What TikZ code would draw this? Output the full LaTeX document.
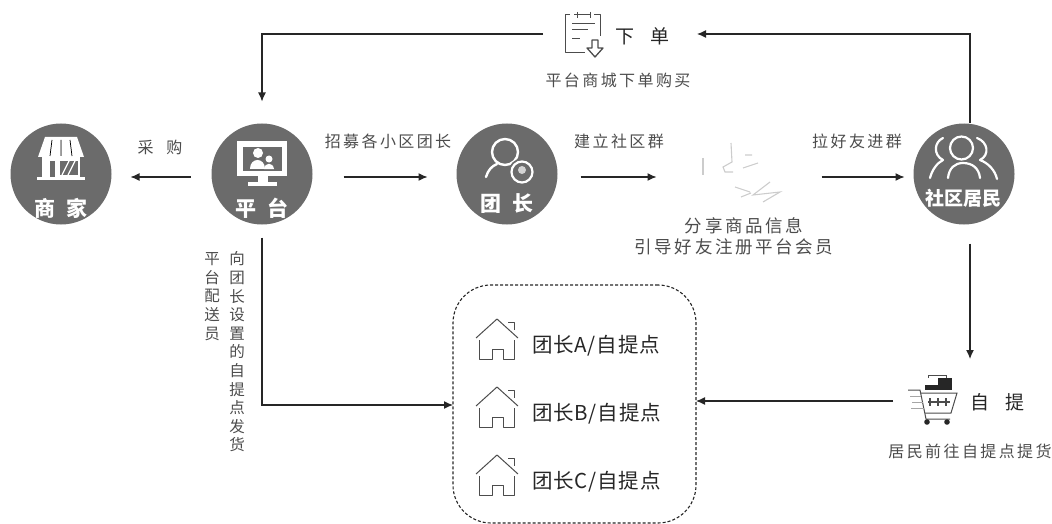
\documentclass[tikz,border=0pt]{standalone}
\usepackage{fontspec}
\setmainfont{Liberation Serif}
\newfontfamily\cjk{Noto Sans CJK SC}
\newfontfamily\cjkw[LetterSpace=15]{Noto Sans CJK SC}
\newfontfamily\cjkn[LetterSpace=4]{Noto Sans CJK SC}
\usetikzlibrary{arrows.meta}
\definecolor{disc}{gray}{0.42}
\definecolor{ink}{gray}{0.15}
\definecolor{soft}{gray}{0.3}
\definecolor{pale}{gray}{0.8}
\tikzset{
 x=1pt,y=-1pt,
 every node/.style={inner sep=0pt,outer sep=0pt},
 disc/.style={circle,fill=disc,minimum size=101pt},
 arr/.style={draw=ink,line width=1.2pt,-{Latex[length=9pt,width=8pt]}},
 lab/.style={font=\cjkw\fontsize{16}{21}\selectfont,text=soft,align=center},
 vert/.style={font=\cjk\fontsize{15.5}{18.6}\selectfont,text=soft,align=center},
 head/.style={font=\cjk\fontsize{19}{22}\selectfont,text=ink},
 stop/.style={font=\cjkn\fontsize{20.5}{24}\selectfont,text=ink},
 inv/.style={font=\cjk\bfseries\fontsize{21}{24}\selectfont,text=white},
 wline/.style={draw=white,line width=2.4pt,line cap=round,line join=round},
 thin icon/.style={draw=soft,line width=1pt,line join=round},
 house/.pic={
  \draw[thin icon] (-21,-2) -- (0,-21) -- (21,-2);
  \draw[thin icon] (-18,0) -- (-18,19) -- (-5,19) -- (-5,9) -- (6,9) -- (6,19) -- (17,19) -- (17,0);
  \draw[thin icon] (11,-18) -- (17,-18) -- (17,-10);
 }
}
\begin{document}
\begin{tikzpicture}
\useasboundingbox (0,0) rectangle (1052,524);
% main discs
\node[disc] (shangjia) at (61,174) {};
\node[disc] (pingtai) at (262,174) {};
\node[disc] (tuanzhang) at (507,174) {};
\node[disc] (jumin) at (964,174) {};
\node[inv] (t1) at (61,208) {商\hspace{12pt}家};
\node[inv] (t2) at (262,208) {平\hspace{12pt}台};
\node[inv] (t3) at (507,204) {团\hspace{12pt}长};
\node[inv,font=\cjk\bfseries\fontsize{19}{22}\selectfont] (t4) at (963,198) {社区居民};
% shop icon
\fill[white] (45,137) -- (77,137) -- (84,157) -- (38,157) -- cycle;
\draw[disc,line width=.7pt] (52,140)--(50,156) (61,140)--(61,156) (70,140)--(72,156);
\fill[white] (37,177) rectangle (85,180);
\fill[white] (42,157) rectangle (80,177);
\fill[disc] (50,161) rectangle (55,177);
\fill[disc] (60,161) rectangle (78,175);
\draw[white,line width=1.2pt] (62,175)--(69,161) (68,175)--(75,161);
% monitor icon
\fill[white] (237,141) rectangle (287,176);
\fill[disc] (243,147) rectangle (282,171);
\fill[white] (258,176) rectangle (268,183);
\fill[white] (248,182) rectangle (277,186);
\fill[white] (258,153) circle (5pt);
\fill[white] (250,169) .. controls (250,157) and (265,157) .. (265,169) -- cycle;
\fill[white] (269,159) circle (3.5pt);
\fill[white] (264,169) .. controls (265,162) and (273,162) .. (274,169) -- cycle;
% leader icon
\draw[wline] (505,152) circle (13pt);
\draw[wline] (486,177) .. controls (488,170) and (492,166) .. (497,164);
\fill[disc] (522,172) circle (13.5pt);
\draw[wline,line width=2.2pt] (522,172) circle (10.5pt);
\fill[white!70!disc] (522,170) circle (4pt);
% residents icon
\draw[wline,line width=2.2pt] (961.5,148) circle (11.5pt);
\draw[wline,line width=2.2pt] (948,178) .. controls (949,168) and (955,163) .. (963,163) .. controls (972,163) and (979,168) .. (980,178);
\draw[wline,line width=2.2pt] (943,138) .. controls (934,142) and (933,155) .. (943,160) .. controls (937,163) and (932,170) .. (930,178);
\draw[wline,line width=2.2pt] (977,138) .. controls (988,142) and (990,155) .. (980,160) .. controls (988,163) and (995,170) .. (997,179);
% order node
\node[head] (xiadan) at (642,36) {下\hspace{16pt}单};
\node[lab] (xdlab) at (618,80) {平台商城下单购买};
\coordinate (xdicon) at (543,34);
\draw[thin icon] (570,15) -- (565,15) -- (565,53) -- (585,53);
\draw[thin icon] (574,15) -- (590,15) (594,15) -- (600,15) -- (600,36);
\draw[thin icon] (577,12) -- (577,18) (590,12) -- (590,18);
\draw[thin icon] (572,24) -- (595,24) (572,30) -- (588,30) (572,39) -- (580,39);
\draw[thin icon,line width=1.3pt] (592,40) -- (598,40) -- (598,48) -- (603,48) -- (595,57) -- (587,48) -- (592,48) -- cycle;
% labels
\node[lab,font=\cjk\fontsize{16}{20}\selectfont] (caigou) at (160,147) {采\hspace{13pt}购};
\node[lab] (zhaomu) at (388,141) {招募各小区团长};
\node[lab] (jianli) at (619,141) {建立社区群};
\node[lab] (lahaoyou) at (857,141) {拉好友进群};
\node[lab,font=\cjkw\fontsize{17.5}{21}\selectfont] (fenxiang) at (734,236) {\hspace*{20pt}分享商品信息\\引导好友注册平台会员};
\draw[pale,line width=1.1pt] (703,158) -- (703,175);
\draw[pale,line width=1.1pt] (731,143) -- (732,162) -- (723,167) -- (725,172) -- (733,172) (745,155) -- (752,155) (743,168) -- (758,163);
\draw[pale,line width=1.1pt] (735,187) -- (750,192) (741,197) -- (751,193) (770,182) -- (753,195) -- (780,192) -- (763,202);
% vertical labels
\node[vert] (peisong) at (212,296.5) {平\\台\\配\\送\\员};
\node[vert] (xianghuo) at (237,352) {向\\团\\长\\设\\置\\的\\自\\提\\点\\发\\货};
% pickup box
\node[draw=ink,densely dashed,line width=1.1pt,rounded corners=38pt,minimum width=243pt,minimum height=238pt] (box) at (574.5,404) {};
\pic at (497,340) {house};
\pic at (497,408) {house};
\pic at (497,476) {house};
\node[stop,anchor=west] (a) at (532,346) {团长A/自提点};
\node[stop,anchor=west] (b) at (532,414) {团长B/自提点};
\node[stop,anchor=west] (c) at (532,482) {团长C/自提点};
% self pickup
\node[head] (ziti) at (997,402) {自\hspace{16pt}提};
\node[lab] (jmlab) at (970,451) {居民前往自提点提货};
\fill[black!85] (938,378) rectangle (952,390);
\fill[black!85] (925,385) rectangle (938,390);
\draw[soft,line width=.7pt] (928,378) -- (928,375) -- (946,375) -- (946,378);
\draw[soft,line width=1pt] (908,390) -- (920,390) -- (926,419) -- (950,419);
\draw[soft,line width=1pt] (921,393) -- (957,393) -- (951,413) -- (925,413);
\draw[soft,line width=1.2pt] (928,402) -- (950,402) (930,398) -- (930,406) (938,398) -- (938,406) (946,398) -- (946,406);
\draw[gray!70,line width=.8pt] (910,396) -- (921,396) (912,402) -- (923,402) (911,408) -- (924,408);
\fill[ink] (927,422) circle (2.8pt) (947,422) circle (2.8pt);
% connectors
\coordinate (topL) at (262,34);
\coordinate (topR) at (970,34);
\coordinate (botL) at (262,405);
\coordinate (zitiTop) at (970,359);
\coordinate (xdR) at (697,34);
\coordinate (ziL) at (893,401);
\draw[arr] (xdicon) -- (topL) -- ([yshift=22pt]pingtai.north);
\draw[arr] ([xshift=6pt]jumin.north) -- (topR) -- (xdR);
\draw[arr,shorten <=21pt,shorten >=19pt] ([yshift=-3pt]pingtai.west) -- ([yshift=-3pt]shangjia.east);
\draw[arr,shorten <=31pt,shorten >=29pt] ([yshift=-3pt]pingtai.east) -- ([yshift=-3pt]tuanzhang.west);
\draw[arr,shorten <=23pt,shorten >=-1pt] ([yshift=-3pt]tuanzhang.east) -- ++(98,0);
\draw[arr,shorten >=9pt] ([xshift=-92pt,yshift=-3pt]jumin.west) -- ([yshift=-3pt]jumin.west);
\draw[arr,shorten <=19pt] ([xshift=6pt]jumin.south) -- (zitiTop);
\draw[arr] (ziL) -- (box.east |- ziL);
\draw[arr,shorten <=13pt] (pingtai.south) -- (botL) -- (box.west |- botL);
\end{tikzpicture}
\end{document}
